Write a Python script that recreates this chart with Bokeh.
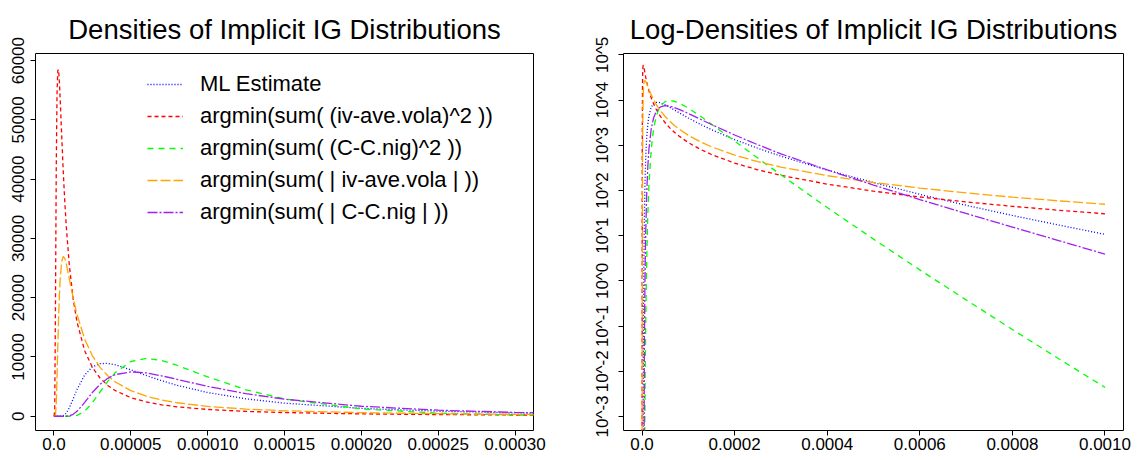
import numpy as np
from bokeh.plotting import figure
from bokeh.layouts import row
from bokeh.models import FixedTicker, Range1d, Legend, LegendItem, CustomJSTickFormatter
from bokeh.embed import file_html
from bokeh.resources import INLINE

# ---- data (density values) ----
x = [0, 5e-7, 1e-6, 1.5e-6, 2e-6, 2.5e-6, 3e-6, 3.5e-6, 4e-6, 5e-6, 6e-6, 7e-6, 8e-6,
     1e-5, 1.25e-5, 1.5e-5, 2e-5, 2.5e-5, 3e-5, 3.5e-5, 4e-5, 5e-5, 6e-5, 7e-5, 8e-5,
     1e-4, 1.25e-4, 1.5e-4, 2e-4, 2.5e-4, 3e-4, 4e-4, 5e-4, 6e-4, 7e-4, 8e-4, 9e-4, 1e-3]

ml_estimate = [0, 0, 0, 0, 1.0e-5, 1.5e-3, 0.038, 0.38, 2.05, 20.6, 91.4, 256, 537,
               1439, 2945, 4506, 6966, 8333, 8881, 8923, 8686, 7840, 6892, 6006, 5232,
               4005, 2939, 2212, 1335, 857, 574, 282, 150, 82, 47, 28, 17.2, 10.7]

iv_sq = [0, 860, 19280, 41850, 54290, 58300, 58500, 56600, 53800, 47660, 41620, 36460, 32130,
         25490, 19810, 15910, 11060, 8242, 6438, 5205, 4318, 3148, 2422, 1937, 1593,
         1146, 822, 625, 404, 287, 216, 138, 96.5, 71.8, 55.7, 44.6, 36.5, 30.5]

c_sq = [0, 0, 0, 0, 0, 0, 0, 0, 0, 7.5e-6, 5.8e-4, 0.0123, 0.1185,
        2.66, 29.6, 138.6, 851, 2282, 4095, 5882, 7388, 9240, 9755, 9404, 8610,
        6646, 4471, 2914, 1240, 520, 222, 42, 8.4, 1.75, 0.38, 0.084, 0.019, 0.0044]

iv_abs = [0, 0.05, 178, 2117, 6419, 11590, 16330, 20120, 22930, 26050, 26960, 26670, 25740,
          23200, 19970, 17180, 13010, 10200, 8248, 6834, 5776, 4322, 3386, 2742, 2278,
          1663, 1207, 926, 606, 434, 330, 212, 150, 113, 88.3, 71.2, 58.8, 49.5]

c_abs = [0, 0, 0, 0, 0, 0, 0, 0, 0, 0.0296, 0.443, 2.96, 11.9,
         79.2, 335.5, 831.7, 2344, 4007, 5401, 6403, 7038, 7494, 7310, 6827, 6234,
         5047, 3810, 2880, 1689, 1028, 646, 285, 132, 63, 31, 15.5, 7.8, 3.9]

series = [ml_estimate, iv_sq, c_sq, iv_abs, c_abs]
labels = ["ML Estimate",
          "argmin(sum( (iv-ave.vola)^2 ))",
          "argmin(sum( (C-C.nig)^2 ))",
          "argmin(sum( | iv-ave.vola | ))",
          "argmin(sum( | C-C.nig | ))"]
colors = ["#0000FF", "#FF0000", "#00FF00", "#FFA500", "#A020F0"]
dashes = ["1 2", "4 3", "6 5", "10 3", "10 2 2 2"]

left_xticks = [0, 0.00005, 0.0001, 0.00015, 0.0002, 0.00025, 0.0003]
left_xlabels = ["0.0", "0.00005", "0.00010", "0.00015", "0.00020", "0.00025", "0.00030"]
left_yticks = [0, 10000, 20000, 30000, 40000, 50000, 60000]
left_ylabels = ["0", "10000", "20000", "30000", "40000", "50000", "60000"]

right_xticks = [0, 0.0002, 0.0004, 0.0006, 0.0008, 0.001]
right_xlabels = ["0.0", "0.0002", "0.0004", "0.0006", "0.0008", "0.0010"]
right_yticks = [1e-3, 1e-2, 1e-1, 1e0, 1e1, 1e2, 1e3, 1e4, 1e5]
right_ylabels = ["10^-3", "10^-2", "10^-1", "10^0", "10^1", "10^2", "10^3", "10^4", "10^5"]

FONT = "Liberation Sans"
LW = 1.3

def fmt(tvals, tlabs):
    return CustomJSTickFormatter(args=dict(tv=tvals, tl=tlabs), code="""
        for (let i = 0; i < tv.length; i++) {
            if (Math.abs(tv[i] - tick) <= 1e-6 * Math.abs(tv[i]) + 1e-15) return tl[i];
        }
        return '';
    """)

def style(p, title, xt, xl, yt, yl):
    p.title.text = title
    p.title.align = "center"
    p.title.text_font = FONT
    p.title.text_font_size = "27.5px"
    p.title.text_font_style = "normal"
    p.title.text_color = "black"
    p.title.standoff = 0
    p.title.padding = 9
    p.xgrid.visible = False
    p.ygrid.visible = False
    p.outline_line_color = "black"
    p.outline_line_width = 1
    p.background_fill_color = "white"
    p.border_fill_color = "white"
    for ax, t, l in ((p.xaxis[0], xt, xl), (p.yaxis[0], yt, yl)):
        ax.ticker = FixedTicker(ticks=t, minor_ticks=[])
        ax.formatter = fmt(t, l)
        ax.axis_line_color = None
        ax.major_tick_line_color = "black"
        ax.major_tick_out = 5
        ax.major_tick_in = 0
        ax.minor_tick_out = 0
        ax.minor_tick_in = 0
        ax.major_label_text_font = FONT
        ax.major_label_text_font_size = "17px"
        ax.major_label_text_color = "black"
    p.xaxis[0].major_label_standoff = 2
    p.yaxis[0].major_label_standoff = 6
    p.yaxis[0].major_label_orientation = "vertical"

# ---- left panel: densities ----
p1 = figure(frame_width=498, frame_height=377, output_backend="svg", toolbar_location=None,
            x_range=Range1d(-0.000012, 0.000312), y_range=Range1d(-2400, 61200),
            min_border_left=35, min_border_right=45, min_border_top=53, min_border_bottom=30)
style(p1, "Densities of Implicit IG Distributions", left_xticks, left_xlabels, left_yticks, left_ylabels)

items = []
for ys, lab, c, d in zip(series, labels, colors, dashes):
    r = p1.line(x, ys, line_color=c, line_dash=d, line_width=LW)
    items.append(LegendItem(label=lab, renderers=[r]))

legend = Legend(items=items, location=(112, 205), orientation="vertical",
                border_line_color=None, background_fill_alpha=0,
                padding=0, margin=0, spacing=6, glyph_width=36, glyph_height=26,
                label_height=26, label_standoff=17,
                label_text_font=FONT, label_text_font_size="22px", label_text_color="black")
p1.add_layout(legend)

# ---- right panel: log-densities ----
p2 = figure(frame_width=500, frame_height=377, output_backend="svg", toolbar_location=None,
            y_axis_type="log",
            x_range=Range1d(-0.00004, 0.00104), y_range=Range1d(10 ** -3.31, 10 ** 5.03),
            min_border_left=45, min_border_right=10, min_border_top=53, min_border_bottom=30)
style(p2, "Log-Densities of Implicit IG Distributions", right_xticks, right_xlabels, right_yticks, right_ylabels)

for ys, c, d in zip(series, colors, dashes):
    yv = np.maximum(np.array(ys, dtype=float), 1e-6)
    p2.line(x, yv, line_color=c, line_dash=d, line_width=LW)

layout = row(p1, p2)
open("out.html", "w").write(file_html(layout, INLINE))
